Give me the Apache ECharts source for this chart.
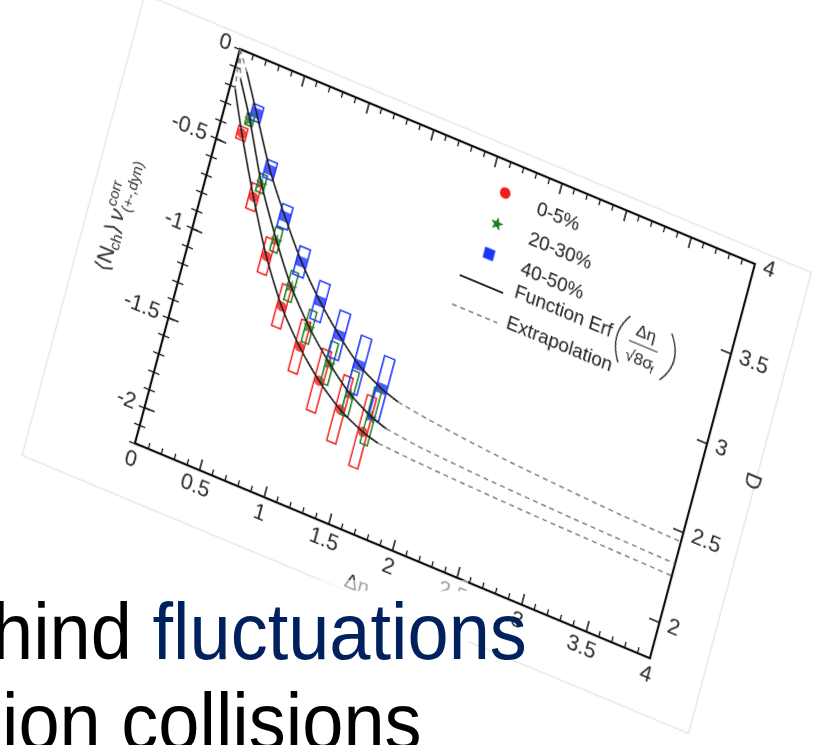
<!DOCTYPE html>
<html><head><meta charset="utf-8">
<script src="https://cdn.jsdelivr.net/npm/echarts@6/dist/echarts.min.js"></script>
<style>
html,body{margin:0;padding:0;width:832px;height:745px;overflow:hidden;background:#fff;}
#chart{position:absolute;left:0;top:0;width:760px;height:540px;transform-origin:0 0;transform:matrix(0.9229,0.3853,-0.2575,0.9664,142.13,-45.56);}
#veil{position:absolute;left:0;top:580px;width:468px;height:165px;background:linear-gradient(rgba(255,255,255,0.55) 0px, rgba(255,255,255,0.55) 10px, #fff 12px);}
.line{position:absolute;font-family:'Liberation Sans',Arial,sans-serif;font-size:80px;line-height:80px;white-space:nowrap;transform-origin:0 0;transform:scaleX(0.925);color:#000;}
</style></head><body>
<div id="chart"></div>
<div id="veil"></div>
<div class="line" style="left:-8px;top:592px;">hind <span style="color:#00215e">fluctuations</span></div>
<div class="line" style="left:2px;top:682px;">ion collisions</div>
<script>
// ---- data ----
const redX   = [0.17, 0.37, 0.57, 0.77, 0.97, 1.17, 1.37, 1.57];
const redY   = [-0.42, -0.715, -0.985, -1.205, -1.37, -1.50, -1.60, -1.665];
const redSys = [0.035, 0.07, 0.097, 0.116, 0.143, 0.17, 0.183, 0.197];
const greenX   = [0.20, 0.40, 0.61, 0.80, 1.00, 1.21, 1.41, 1.60];
const greenY   = [-0.335, -0.63, -0.883, -1.085, -1.25, -1.39, -1.50, -1.57];
const greenSys = [0.032, 0.049, 0.065, 0.081, 0.089, 0.116, 0.124, 0.156];
const blueX   = [0.236, 0.435, 0.627, 0.827, 1.03, 1.227, 1.422, 1.622];
const blueY   = [-0.288, -0.545, -0.748, -0.94, -1.10, -1.23, -1.338, -1.408];
const blueSys = [0.043, 0.049, 0.062, 0.078, 0.105, 0.129, 0.156, 0.172];

const leadRedX = [0, 0.04],  leadRedY = [0, -0.21];
const leadGreenX = [0, 0.06], leadGreenY = [0, -0.15];
const leadBlueX = [0, 0.09], leadBlueY = [0, -0.10];

const fitRedX = [0.04, 0.17, 0.37, 0.57, 0.77, 0.97, 1.17, 1.37, 1.57, 1.70];
const fitRedY = [-0.21, -0.42, -0.715, -0.985, -1.205, -1.37, -1.50, -1.60, -1.665, -1.69];
const fitGreenX = [0.06, 0.20, 0.40, 0.61, 0.80, 1.00, 1.21, 1.41, 1.60, 1.73];
const fitGreenY = [-0.15, -0.335, -0.63, -0.883, -1.085, -1.25, -1.39, -1.50, -1.57, -1.60];
const fitBlueX = [0.09, 0.236, 0.435, 0.627, 0.827, 1.03, 1.227, 1.422, 1.622, 1.76];
const fitBlueY = [-0.10, -0.288, -0.545, -0.748, -0.94, -1.10, -1.23, -1.338, -1.408, -1.44];

const extRedX = [1.70, 2.0, 2.5, 3.0, 3.5, 4.0];
const extRedY = [-1.69, -1.703, -1.717, -1.727, -1.734, -1.74];
const extGreenX = [1.73, 2.0, 2.5, 3.0, 3.5, 4.0];
const extGreenY = [-1.60, -1.622, -1.642, -1.655, -1.665, -1.672];
const extBlueX = [1.76, 2.0, 2.5, 3.0, 3.5, 4.0];
const extBlueY = [-1.44, -1.465, -1.50, -1.522, -1.54, -1.55];

const yTickValues = [0, -0.5, -1, -1.5, -2];
const dTickValues = [2, 2.5, 3, 3.5, 4];
const legendNames = ['0-5%', '20-30%', '40-50%', 'Function Erf', 'Extrapolation'];

// ---- styles ----
const FONT = "'Liberation Sans', Arial, 'DejaVu Sans', sans-serif";
const RED = '#f41c1c', GREEN = '#1d7a1d', BLUE = '#1c35ff';
const STAR = 'path://M0,-10L2.35,-3.24L9.51,-3.09L3.8,1.24L5.88,8.09L0,4L-5.88,8.09L-3.8,1.24L-9.51,-3.09L-2.35,-3.24Z';
const pairs = (xs, ys) => xs.map((x, i) => [x, ys[i]]);

function boxes(xs, ys, es, hw, color) {
  return {
    type: 'custom', xAxisIndex: 0, yAxisIndex: 0, z: 3,
    data: xs.map((x, i) => [x, ys[i], es[i]]),
    encode: { x: 0, y: 1 },
    renderItem: (params, api) => {
      const x = api.value(0), y = api.value(1), e = api.value(2);
      const p1 = api.coord([x - hw, y + e]);
      const p2 = api.coord([x + hw, y - e]);
      return { type: 'rect', shape: { x: p1[0], y: p1[1], width: p2[0] - p1[0], height: p2[1] - p1[1] },
               style: { fill: 'none', stroke: color, lineWidth: 1.5 } };
    }
  };
}
function pts(xs, ys, symbol, size, color) {
  return { type: 'scatter', data: pairs(xs, ys), symbol, symbolSize: size, z: 2,
           itemStyle: { color }, xAxisIndex: 0, yAxisIndex: 0 };
}
function curve(xs, ys, dashed) {
  return { type: 'line', data: pairs(xs, ys), showSymbol: false, symbol: 'none', smooth: 0.25, z: 4,
           xAxisIndex: 0, yAxisIndex: 0,
           lineStyle: dashed ? { color: '#777', width: 1.4, type: [5, 4] } : { color: '#1a1a1a', width: 1.7 } };
}

const tickLine = { color: '#111', width: 1.5 };
const axisLine = { show: true, onZero: false, lineStyle: { color: '#111', width: 2.2 } };
const lab = { fontSize: 22, color: '#2a2a2a', fontFamily: FONT, formatter: v => String(v) };

function xAx(pos, showLabel) {
  return { type: 'value', min: 0, max: 4, interval: 0.5, position: pos, axisLine,
    axisTick: { inside: true, length: 11, lineStyle: tickLine },
    minorTick: { show: true, splitNumber: 5, length: 6, lineStyle: { color: '#111', width: 1.3 } },
    splitLine: { show: false }, minorSplitLine: { show: false },
    axisLabel: showLabel ? Object.assign({ margin: 6 }, lab) : { show: false } };
}
function yMajor(pos, min, max, vals, margin) {
  return { type: 'value', min, max, position: pos, axisLine,
    axisTick: { inside: true, length: 11, customValues: vals, lineStyle: tickLine },
    splitLine: { show: false },
    axisLabel: Object.assign({ customValues: vals, margin }, lab) };
}
function yMinor(pos, min, max) {
  return { type: 'value', min, max, interval: 0.1, position: pos, axisLine: { show: false },
    axisTick: { inside: true, length: 6, lineStyle: { color: '#111', width: 1.3 } },
    splitLine: { show: false }, axisLabel: { show: false } };
}

// legend star polygon
const starPts = [];
for (let k = 0; k < 10; k++) {
  const r = k % 2 === 0 ? 7 : 2.8, a = -Math.PI / 2 + k * Math.PI / 5;
  starPts.push([416 + r * Math.cos(a), 113 + r * Math.sin(a)]);
}
const txt = (x, y, s, size, extra, rot) => ({ type: 'text', x, y, rotation: rot || 0,
  style: Object.assign({ text: s, fontSize: size, fontFamily: FONT, fill: '#222', verticalAlign: 'middle', align: 'left' }, extra || {}) });

const chart = echarts.init(document.getElementById('chart'), null, { devicePixelRatio: 2 });
chart.setOption({
  animation: false,
  backgroundColor: '#fff',
  grid: { left: 120, top: 50, width: 558, height: 408 },
  xAxis: [xAx('bottom', true), xAx('top', false)],
  yAxis: [yMajor('left', -2.2, 0, yTickValues, 10), yMinor('left', -2.2, 0),
          yMajor('right', 1.8, 4, dTickValues, 9), yMinor('right', 1.8, 4)],
  graphic: [
    { type: 'rect', shape: { x: 13, y: 36, width: 722, height: 477 }, style: { fill: 'none', stroke: '#dcdcdc', lineWidth: 1 }, z: -1 },
    // axis titles
    { type: 'group', x: 44, y: 253, rotation: Math.PI / 2, children: [
      txt(-57, 0, '⟨N', 22, { fill: '#333' }),
      txt(-33, 6, 'ch', 15, { fill: '#333' }),
      txt(-17.5, 0, '⟩', 22, { fill: '#333' }),
      txt(-5, 0, 'ν', 22, { fill: '#333', fontStyle: 'italic' }),
      txt(7, -8, 'corr', 15, { fill: '#333' }),
      txt(7, 8, '(+-,dyn)', 15, { fill: '#333' })
    ] },
    txt(731, 253, 'D', 22, { fill: '#333', align: 'center' }, -Math.PI / 2),
    txt(373, 504, 'Δη', 21, { fill: '#333', align: 'center' }),
    // legend
    { type: 'circle', shape: { cx: 416, cy: 81, r: 5.5 }, style: { fill: RED } },
    { type: 'polygon', shape: { points: starPts }, style: { fill: GREEN } },
    { type: 'rect', shape: { x: 410.5, y: 138.5, width: 11, height: 11 }, style: { fill: BLUE } },
    { type: 'line', shape: { x1: 393, y1: 175, x2: 440, y2: 175 }, style: { stroke: '#111', lineWidth: 1.7 } },
    { type: 'line', shape: { x1: 393, y1: 205, x2: 442, y2: 205 }, style: { stroke: '#777', lineWidth: 1.4, lineDash: [5, 4] } },
    txt(451, 83, legendNames[0], 19.5),
    txt(451, 114, legendNames[1], 19.5),
    txt(451, 145, legendNames[2], 19.5),
    txt(451, 169, legendNames[3], 19.5),
    txt(451, 201, legendNames[4], 19.5),
    { type: 'bezierCurve', shape: { x1: 570, y1: 147, x2: 570, y2: 195, cpx1: 554, cpy1: 171 }, style: { stroke: '#222', lineWidth: 1.3, fill: 'none' } },
    { type: 'bezierCurve', shape: { x1: 615, y1: 147, x2: 615, y2: 195, cpx1: 633, cpy1: 171 }, style: { stroke: '#222', lineWidth: 1.3, fill: 'none' } },
    txt(590, 158, 'Δη', 17, { align: 'center' }),
    { type: 'line', shape: { x1: 575, y1: 170, x2: 606, y2: 170 }, style: { stroke: '#222', lineWidth: 1 } },
    txt(575, 185, '√8σ', 17),
    txt(603, 190, 'f', 11)
  ],
  series: [
    pts(redX, redY, 'circle', 10, RED),
    pts(greenX, greenY, STAR, 13, GREEN),
    pts(blueX, blueY, 'rect', 10, BLUE),
    boxes(redX, redY, redSys, 0.035, RED),
    boxes(greenX, greenY, greenSys, 0.028, GREEN),
    boxes(blueX, blueY, blueSys, 0.04, BLUE),
    curve(leadRedX, leadRedY, true), curve(leadGreenX, leadGreenY, true), curve(leadBlueX, leadBlueY, true),
    curve(fitRedX, fitRedY, false), curve(fitGreenX, fitGreenY, false), curve(fitBlueX, fitBlueY, false),
    curve(extRedX, extRedY, true), curve(extGreenX, extGreenY, true), curve(extBlueX, extBlueY, true)
  ]
});
</script>
</body></html>
